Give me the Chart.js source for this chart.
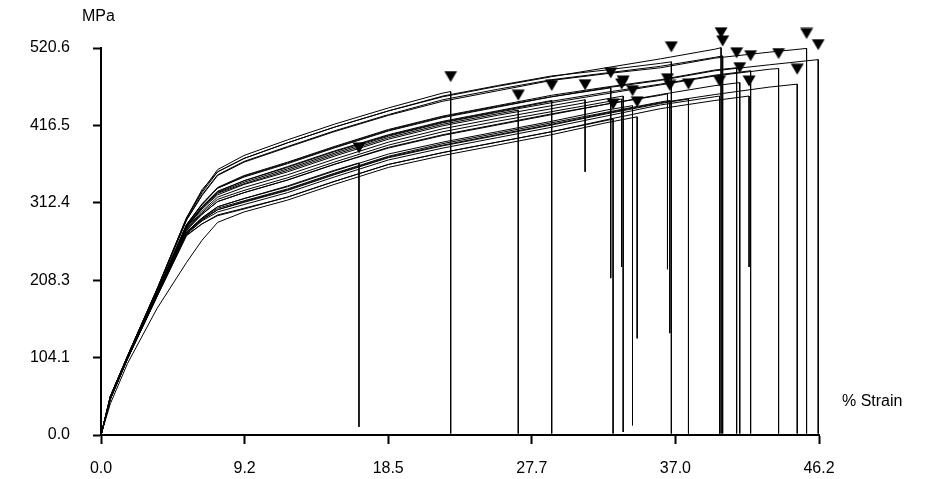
<!DOCTYPE html>
<html>
<head>
<meta charset="utf-8">
<script src="https://cdn.jsdelivr.net/npm/chart.js@4"></script>
<style>
  html, body { margin: 0; padding: 0; background: #fff; }
  #c { display: block; }
</style>
</head>
<body>
<canvas id="c" width="936" height="479"></canvas>
<script>
// Tensile test: stress vs. strain for each specimen, break marked with a triangle.

// Strain (%) sampling points shared by all specimen curves
const strainGrid = [0, 0.6, 1.7, 3.6, 5.5, 6.5, 7.5, 9.2, 12, 15, 18.5, 22, 25.5, 29, 32.5, 36, 39.5, 43];

// Stress (MPa) of each specimen at the strain points above, up to its break
const s01 = [0, 49, 103, 188, 273, 292, 307, 318, 335, 356];
const s02 = [0, 52, 106, 196, 292, 328, 357, 376, 397, 418, 440, 460];
const s03 = [0, 50, 104, 191, 280, 305, 325, 338, 356, 377, 400, 418, 432];
const s04 = [0, 50, 104, 191, 281, 307, 328, 342, 361, 382, 404, 422, 436];
const s05 = [0, 50, 104, 191, 279, 304, 323, 337, 354, 375, 398, 416, 430, 443];
const s06 = [0, 50, 104, 192, 282, 310, 332, 347, 365, 386, 409, 427, 441, 455, 466];
const s07 = [0, 48, 102, 186, 268, 284, 295, 304, 320, 341, 364, 380, 394, 408, 423];
const s08 = [0, 49, 103, 190, 277, 299, 317, 329, 346, 367, 390, 408, 422, 435, 448];
const s09 = [0, 50, 104, 190, 278, 301, 320, 333, 350, 371, 394, 412, 426, 439, 452];
const s10 = [0, 49, 103, 188, 273, 292, 307, 318, 334, 355, 378, 394, 408, 422, 437];
const s11 = [0, 42, 96, 170, 232, 262, 286, 300, 316, 337, 360, 376, 390, 404, 420];
const s12 = [0, 49, 103, 189, 275, 297, 314, 326, 343, 364, 386, 403, 417, 431, 445, 457];
const s13 = [0, 49, 103, 188, 272, 291, 305, 315, 331, 352, 375, 392, 406, 420, 434, 448];
const s14 = [0, 52, 106, 196, 291, 326, 354, 372, 393, 414, 436, 456, 470, 483, 491, 500];
const s15 = [0, 49, 103, 187, 271, 289, 303, 313, 329, 350, 373, 389, 403, 417, 432, 446];
const s16 = [0, 52, 106, 196, 292, 330, 354, 372, 393, 414, 436, 455, 469, 482, 494, 506, 519];
const s17 = [0, 52, 106, 195, 289, 323, 350, 368, 388, 409, 431, 451, 465, 478, 487, 496, 508];
const s18 = [0, 48, 102, 187, 270, 288, 300, 310, 326, 347, 370, 386, 400, 414, 429, 444, 455];
const s19 = [0, 50, 104, 192, 283, 311, 333, 349, 367, 388, 411, 429, 443, 457, 468, 478, 491];
const s20 = [0, 49, 103, 189, 276, 297, 314, 326, 343, 364, 387, 404, 418, 432, 445, 458, 470];
const s21 = [0, 48, 102, 186, 269, 284, 296, 305, 320, 341, 364, 380, 394, 408, 424, 439, 450];
const s22 = [0, 50, 104, 191, 281, 307, 327, 342, 360, 381, 403, 421, 435, 449, 461, 472, 484];
const s23 = [0, 50, 104, 191, 280, 306, 326, 340, 358, 379, 402, 420, 434, 447, 459, 471, 483, 492];
const s24 = [0, 49, 103, 188, 272, 290, 303, 314, 330, 351, 374, 390, 404, 418, 433, 447, 458, 468];
const s25 = [0, 51, 105, 195, 289, 322, 349, 367, 387, 408, 430, 449, 463, 477, 486, 494, 507, 515];
const s26 = [0, 50, 104, 192, 283, 310, 332, 348, 366, 387, 410, 428, 442, 455, 467, 477, 490, 498];

// Break point (strain %, stress MPa) and the stress the trace falls to afterwards
const breakStrain = [16.6, 22.5, 26.85, 29.0, 31.15, 32.8, 32.95, 33.5, 33.6, 34.2, 34.5, 36.45, 36.6,
                     36.7, 37.8, 39.9, 40.0, 39.8, 40.9, 41.1, 41.7, 41.8, 43.6, 44.8, 45.4, 46.15];
const breakStress = [366, 462, 437, 450, 451, 467, 425, 452, 456, 443, 428, 459, 450,
                     502, 452, 521, 510, 456, 494, 474, 456, 490, 493, 472, 520, 505];
const dropStress  = [11, 2, 2, 2, 354, 211, 2, 226, 4, 13, 130, 223, 137,
                     2, 2, 2, 2, 2, 2, 2, 226, 2, 2, 2, 2, 2];

// Axis tick labels
const xTickValues = [0, 9.24, 18.48, 27.72, 36.96, 46.2];
const yTickValues = [0, 104.1, 208.3, 312.4, 416.5, 520.6];

const specimens = [s01, s02, s03, s04, s05, s06, s07, s08, s09, s10, s11, s12, s13,
                   s14, s15, s16, s17, s18, s19, s20, s21, s22, s23, s24, s25, s26];

const FONT = '"Liberation Sans", Arial, sans-serif';

// Downward triangle drawn above its anchor point (break marker)
const marker = document.createElement('canvas');
marker.width = 14;
marker.height = 42;
(function () {
  const g = marker.getContext('2d');
  g.fillStyle = '#000';
  g.beginPath();
  g.moveTo(0.5, 0.5);
  g.lineTo(13.5, 0.5);
  g.lineTo(7, 11.5);
  g.closePath();
  g.fill();
})();

const datasets = specimens.map((stress, i) => {
  const pts = stress.map((y, k) => ({ x: strainGrid[k], y }));
  pts.push({ x: breakStrain[i], y: breakStress[i] });
  pts.push({ x: breakStrain[i], y: dropStress[i] });
  return {
    type: 'line',
    data: pts,
    borderColor: '#000',
    borderWidth: 1,
    pointRadius: 0,
    tension: 0,
    fill: false,
    clip: false
  };
});

datasets.push({
  type: 'scatter',
  data: breakStrain.map((x, i) => ({ x, y: breakStress[i] })),
  pointStyle: marker,
  pointRadius: 7,
  showLine: false,
  clip: false
});

// Axis unit captions
const axisCaptions = {
  id: 'axisCaptions',
  afterDraw(chart) {
    const ctx = chart.ctx;
    ctx.save();
    ctx.fillStyle = '#000';
    ctx.font = '16px ' + FONT;
    ctx.textBaseline = 'middle';
    ctx.textAlign = 'left';
    ctx.fillText('MPa', 82, 17);
    ctx.fillText('% Strain', 842, 402);
    ctx.restore();
  }
};

new Chart(document.getElementById('c'), {
  data: { datasets },
  options: {
    responsive: false,
    animation: false,
    events: [],
    layout: { padding: { top: 48, right: 117, bottom: 0, left: 0 } },
    plugins: { legend: { display: false }, tooltip: { enabled: false } },
    scales: {
      x: {
        type: 'linear',
        position: 'bottom',
        min: 0,
        max: 46.2,
        afterBuildTicks: s => { s.ticks = xTickValues.map(v => ({ value: v })); },
        afterFit: s => { s.height = 44; },
        ticks: {
          autoSkip: false,
          maxRotation: 0,
          color: '#000',
          padding: 15,
          font: { family: FONT, size: 16 },
          callback: v => Number(v).toFixed(1)
        },
        grid: { drawOnChartArea: false, drawTicks: true, tickLength: 9, tickWidth: 2, tickColor: '#000' },
        border: { display: true, color: '#000', width: 2 }
      },
      y: {
        type: 'linear',
        position: 'left',
        min: 0,
        max: 520.6,
        afterBuildTicks: s => { s.ticks = yTickValues.map(v => ({ value: v })); },
        afterFit: s => { s.width = 101; },
        ticks: {
          autoSkip: false,
          color: '#000',
          padding: 23,
          font: { family: FONT, size: 16 },
          callback: v => Number(v).toFixed(1)
        },
        grid: { drawOnChartArea: false, drawTicks: true, tickLength: 8, tickWidth: 2, tickColor: '#000' },
        border: { display: true, color: '#000', width: 2 }
      }
    }
  },
  plugins: [axisCaptions]
});
</script>
</body>
</html>
